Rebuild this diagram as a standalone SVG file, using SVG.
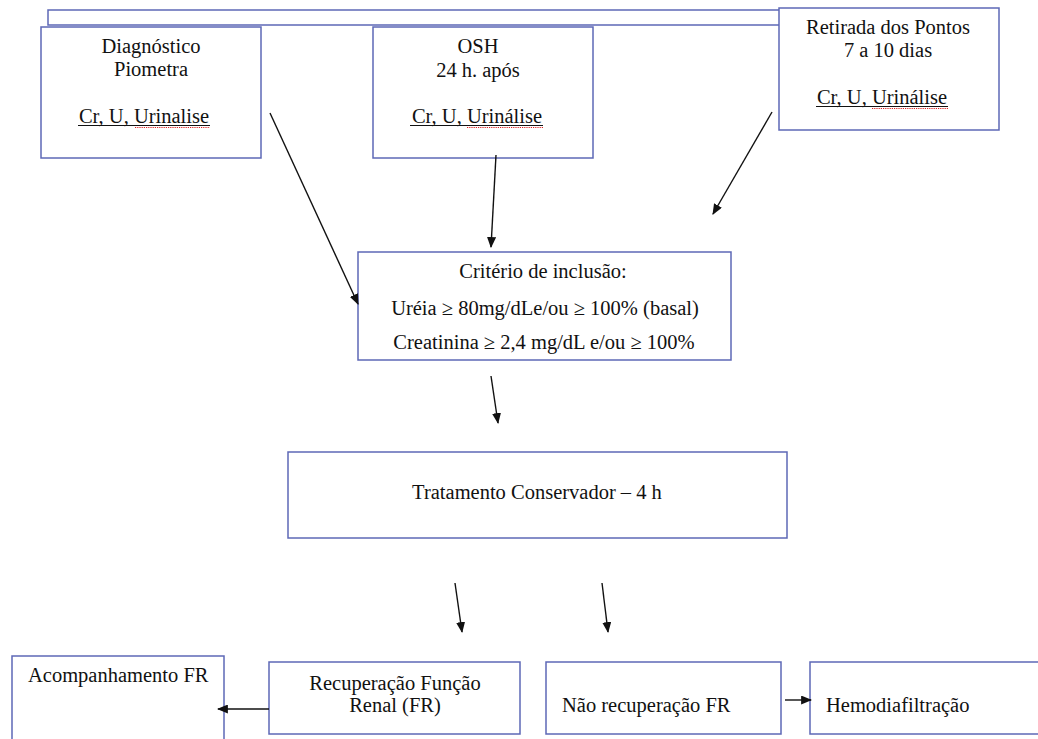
<svg xmlns="http://www.w3.org/2000/svg" width="1038" height="739" viewBox="0 0 1038 739">
<defs>
<style>
.box{fill:#fff;stroke:#5d68b6;stroke-width:1.5}
text{font-family:'Liberation Serif',serif;font-size:20.5px;fill:#111}
.c{text-anchor:middle}
.con{stroke:#111;stroke-width:1.4;fill:none;marker-end:url(#ah)}
.ul{stroke:#111;stroke-width:1;fill:none}
.sq{stroke:#d22;stroke-width:1.2;stroke-dasharray:1.2 1;fill:none}
</style>
<marker id="ah" viewBox="0 0 10 10" refX="9" refY="5" markerWidth="11" markerHeight="9" orient="auto" markerUnits="userSpaceOnUse" preserveAspectRatio="none">
<path d="M0,0 L10,5 L0,10 z" fill="#111"/>
</marker>
</defs>
<rect width="1038" height="739" fill="#fff"/>
<g id="bracket">
<polyline points="780,10 48,10 48,25 780,25" fill="none" stroke="#5d68b6" stroke-width="1.5"/>
</g>
<g id="diagnostico">
<rect class="box" x="41" y="27" width="220" height="131"/>
<text class="c" x="151" y="53">Diagnóstico</text>
<text class="c" x="151" y="76">Piometra</text>
<text class="c" x="144" y="123">Cr, U, Urinalise</text>
<path class="ul" d="M78,125.5 H210"/>
<path class="sq" d="M135,127.5 H210"/>
</g>
<g id="osh">
<rect class="box" x="373" y="27" width="220" height="131"/>
<text class="c" x="478" y="53">OSH</text>
<text class="c" x="478" y="77">24 h. após</text>
<text class="c" x="477" y="123">Cr, U, Urinálise</text>
<path class="ul" d="M410,125.5 H543"/>
<path class="sq" d="M467,127.5 H543"/>
</g>
<g id="retirada">
<rect class="box" x="779" y="8" width="220" height="122"/>
<text class="c" x="888" y="34">Retirada dos Pontos</text>
<text class="c" x="888" y="57">7 a 10 dias</text>
<text class="c" x="882" y="104">Cr, U, Urinálise</text>
<path class="ul" d="M816,106.5 H948"/>
<path class="sq" d="M872,108.5 H948"/>
</g>
<g id="criterio">
<rect class="box" x="358" y="252" width="373" height="108"/>
<text class="c" x="543" y="278">Critério de inclusão:</text>
<text class="c" x="545" y="315">Uréia ≥ 80mg/dLe/ou ≥ 100% (basal)</text>
<text class="c" x="544" y="349">Creatinina ≥ 2,4 mg/dL e/ou ≥ 100%</text>
</g>
<g id="tratamento">
<rect class="box" x="288" y="452" width="499" height="86"/>
<text class="c" x="537" y="499">Tratamento Conservador – 4 h</text>
</g>
<g id="acompanhamento">
<rect class="box" x="12" y="656" width="212" height="90"/>
<text x="28" y="682">Acompanhamento FR</text>
</g>
<g id="recuperacao">
<rect class="box" x="269" y="662" width="251" height="72"/>
<text class="c" x="395" y="690">Recuperação Função</text>
<text class="c" x="395" y="712">Renal (FR)</text>
</g>
<g id="nao-recuperacao">
<rect class="box" x="546" y="662" width="235" height="72"/>
<text x="562" y="712">Não recuperação FR</text>
</g>
<g id="hemodiafiltracao">
<rect class="box" x="810" y="662" width="240" height="72"/>
<text x="826" y="712">Hemodiafiltração</text>
</g>
<g id="connectors">
<line class="con" x1="270" y1="113" x2="358" y2="304"/>
<line class="con" x1="496" y1="155" x2="491" y2="247"/>
<line class="con" x1="772" y1="112" x2="713" y2="214"/>
<line class="con" x1="491" y1="376" x2="498" y2="423"/>
<line class="con" x1="455" y1="583" x2="462" y2="632"/>
<line class="con" x1="602" y1="583" x2="608" y2="632"/>
<line class="con" x1="269" y1="709" x2="218" y2="709"/>
<line class="con" x1="785" y1="700" x2="811" y2="700"/>
</g>
</svg>
